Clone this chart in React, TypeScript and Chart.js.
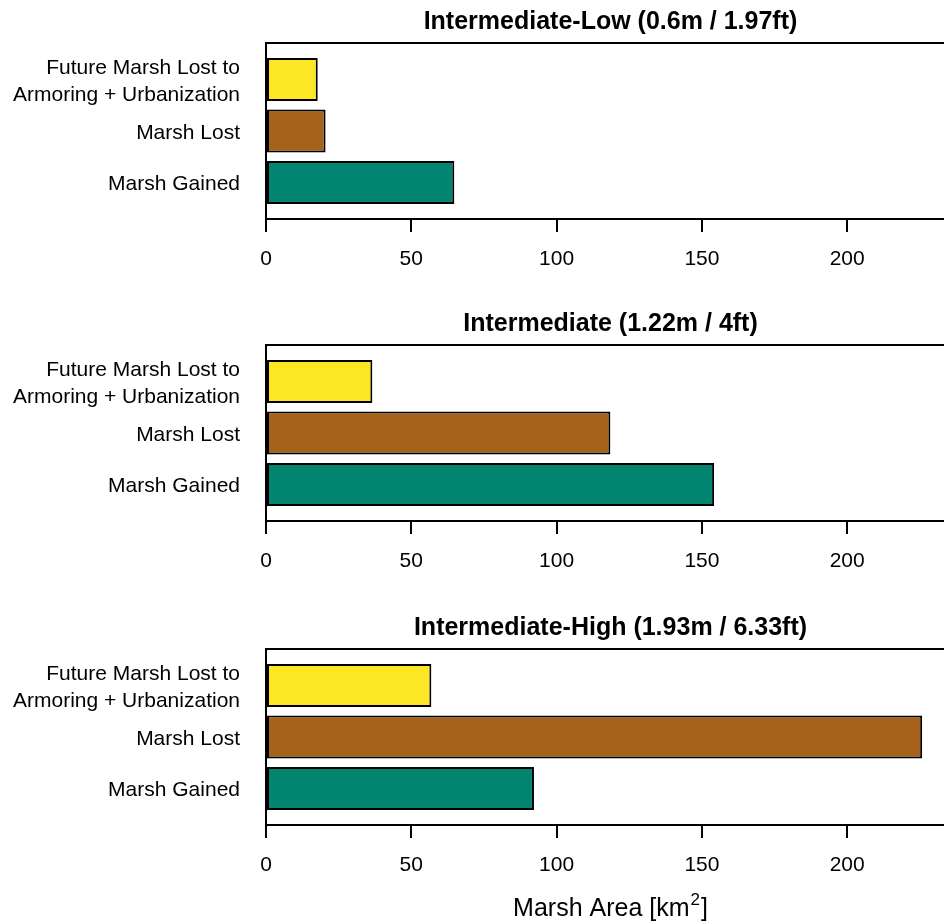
import React, { useEffect, useRef } from "react";
import { Chart, registerables } from "chart.js";

Chart.register(...registerables);

// Bar categories, bottom to top
const categories: (string | string[])[] = [
  "Marsh Gained",
  "Marsh Lost",
  ["Future Marsh Lost to", "Armoring + Urbanization"],
];
const barColors = ["#018571", "#A6611A", "#FDE725"];

const scenarioTitles = [
  "Intermediate-Low (0.6m / 1.97ft)",
  "Intermediate (1.22m / 4ft)",
  "Intermediate-High (1.93m / 6.33ft)",
];

// Marsh area in km², ordered like `categories`
const lowValues = [64.8, 20.5, 17.8];
const intermediateValues = [154.2, 118.5, 36.6];
const highValues = [92.2, 225.8, 56.9];

const xTicks = [0, 50, 100, 150, 200];
const xTitleParts = ["Marsh Area [km", "2", "]"];

const scenarios = [lowValues, intermediateValues, highValues];

// barplot geometry in data units: width 1, space 0.2
const BAR_WIDTH = 1;
const BAR_SPACE = 0.2;
const slot = (i: number) => BAR_SPACE + BAR_WIDTH / 2 + i * (BAR_WIDTH + BAR_SPACE);
const yLo = 0;
const yHi = (BAR_WIDTH + BAR_SPACE) * categories.length + BAR_SPACE;
const yPad = (yHi - yLo) * 0.04;

const allValues = [...lowValues, ...intermediateValues, ...highValues];
const X_MAX = Math.max(...allValues) * 1.05;

const FONT = "'Liberation Sans', Arial, Helvetica, sans-serif";
const CANVAS_W = 955;
const PLOT_LEFT = 266;
const PLOT_TOP = 43;
const PLOT_BOTTOM = 219;

const panelTops = [0, 302, 606];
const panelHeights = [302, 304, 316];

const framePlugin = {
  id: "frame",
  afterDatasetsDraw(chart: any) {
    const { ctx, chartArea: a } = chart;
    ctx.save();
    ctx.strokeStyle = "#000";
    ctx.lineWidth = 2;
    ctx.strokeRect(a.left, a.top, a.right - a.left, a.bottom - a.top);
    ctx.restore();
  },
};

const xTitlePlugin = {
  id: "xTitle",
  afterDraw(chart: any) {
    const { ctx, chartArea: a } = chart;
    const big = `25px ${FONT}`;
    const small = `17px ${FONT}`;
    ctx.save();
    ctx.fillStyle = "#000";
    ctx.textBaseline = "alphabetic";
    ctx.textAlign = "left";
    ctx.font = big;
    const w1 = ctx.measureText(xTitleParts[0]).width;
    const w3 = ctx.measureText(xTitleParts[2]).width;
    ctx.font = small;
    const w2 = ctx.measureText(xTitleParts[1]).width;
    const total = w1 + w2 + w3 + 2;
    let x = (a.left + a.right) / 2 - total / 2;
    const y = a.bottom + 91;
    ctx.font = big;
    ctx.fillText(xTitleParts[0], x, y);
    x += w1 + 1;
    ctx.font = small;
    ctx.fillText(xTitleParts[1], x, y - 11);
    x += w2 + 1;
    ctx.font = big;
    ctx.fillText(xTitleParts[2], x, y);
    ctx.restore();
  },
};

function Panel({ index }: { index: number }) {
  const ref = useRef<HTMLCanvasElement>(null);
  const height = panelHeights[index];
  const values = scenarios[index];
  const showXTitle = index === scenarios.length - 1;

  useEffect(() => {
    if (!ref.current) return;
    const chart = new Chart(ref.current, {
      type: "bar",
      data: {
        datasets: [
          {
            data: values.map((v, i) => ({ x: v, y: slot(i) })),
            backgroundColor: barColors,
            borderColor: "#000",
            borderWidth: 2,
            borderSkipped: false,
            categoryPercentage: 1,
            barPercentage: BAR_WIDTH / (BAR_WIDTH + BAR_SPACE),
          } as any,
        ],
      },
      options: {
        indexAxis: "y",
        responsive: false,
        animation: false,
        events: [],
        layout: { padding: 0 },
        plugins: {
          legend: { display: false },
          tooltip: { enabled: false },
          title: {
            display: true,
            text: scenarioTitles[index],
            color: "#000",
            font: { family: FONT, size: 25, weight: "bold", lineHeight: 1.2 },
            padding: { top: 7, bottom: PLOT_TOP - 37 },
            fullSize: false,
          },
        },
        scales: {
          x: {
            type: "linear",
            position: "bottom",
            min: 0,
            max: X_MAX,
            offset: false,
            afterBuildTicks: (s: any) => {
              s.ticks = xTicks.map((v) => ({ value: v }));
            },
            afterFit: (s: any) => {
              s.height = height - PLOT_BOTTOM;
              s.paddingLeft = 0;
              s.paddingRight = 0;
            },
            grid: {
              display: true,
              drawOnChartArea: false,
              drawTicks: true,
              tickLength: 13,
              color: "#000",
              lineWidth: 2,
              offset: false,
            },
            border: { display: false },
            ticks: {
              color: "#000",
              font: { family: FONT, size: 21 },
              padding: 15,
              maxRotation: 0,
              autoSkip: false,
            },
          },
          y: {
            type: "linear",
            min: yLo - yPad,
            max: yHi + yPad,
            offset: false,
            afterBuildTicks: (s: any) => {
              s.ticks = categories.map((_, i) => ({ value: slot(i) }));
            },
            afterFit: (s: any) => {
              s.width = PLOT_LEFT;
              s.paddingTop = 0;
              s.paddingBottom = 0;
            },
            grid: { display: false, drawTicks: false, offset: false },
            border: { display: false },
            ticks: {
              color: "#000",
              font: { family: FONT, size: 21, lineHeight: 1.27 },
              padding: 26,
              labelOffset: 2,
              autoSkip: false,
              callback: (_v: any, i: number) => categories[i] as any,
            },
          },
        },
      } as any,
      plugins: showXTitle ? [framePlugin, xTitlePlugin] : [framePlugin],
    });
    return () => chart.destroy();
  }, []);

  return (
    <div
      style={{
        position: "absolute",
        left: 0,
        top: panelTops[index],
        width: CANVAS_W,
        height,
      }}
    >
      <canvas
        ref={ref}
        width={CANVAS_W}
        height={height}
        style={{ width: CANVAS_W, height, display: "block" }}
      />
    </div>
  );
}

export default function App() {
  return (
    <div
      style={{
        position: "absolute",
        left: 0,
        top: 0,
        width: 944,
        height: 922,
        overflow: "hidden",
        background: "#fff",
      }}
    >
      {scenarios.map((_, i) => (
        <Panel key={i} index={i} />
      ))}
    </div>
  );
}
